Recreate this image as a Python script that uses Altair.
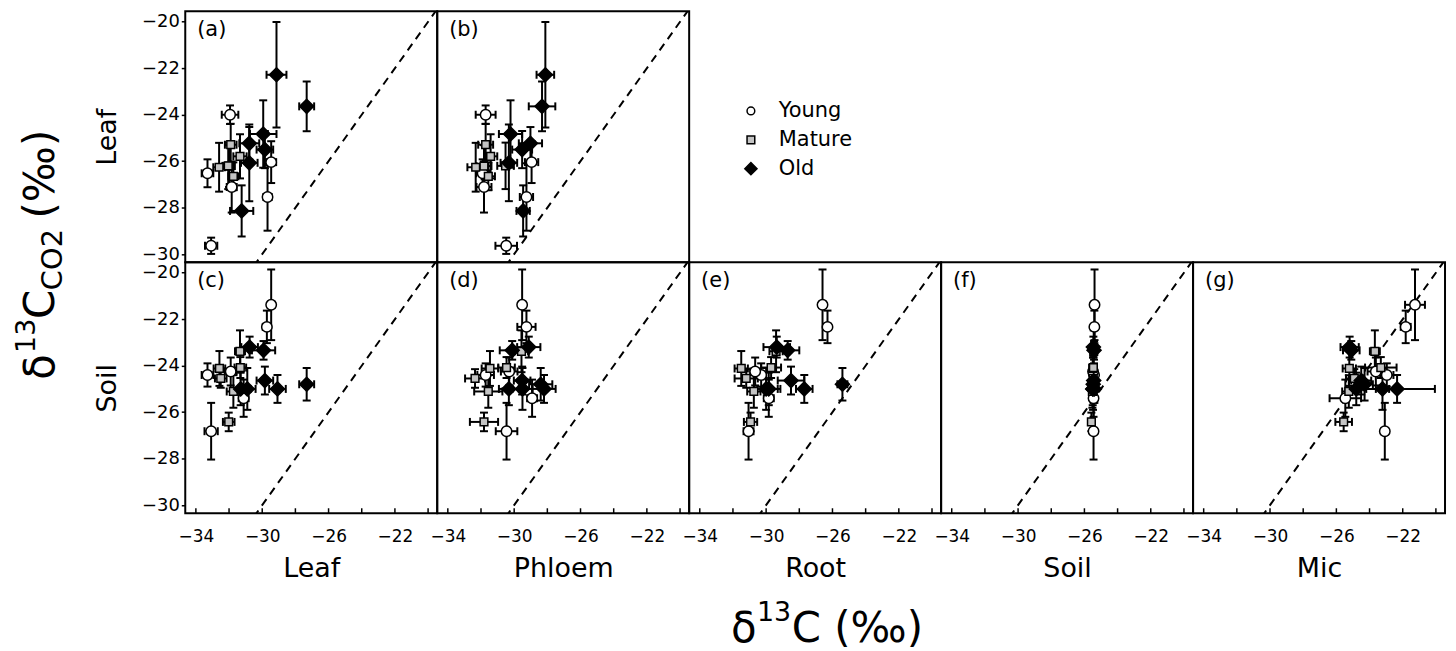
import altair as alt
import pandas as pd

GROUPS = ["Young", "Mature", "Old"]
SHAPES = ["circle", "square", "diamond"]
FILLS = ["white", "#c4c4c4", "black"]
SIZES = [110, 60, 200]
LEGEND_SIZES = [60, 60, 150]
legend_rows = [0, 1, 2]

# ---------- top row: leaf-respired CO2 ----------
leaf_group = ["Young", "Young", "Young", "Young", "Young", "Young",
              "Mature", "Mature", "Mature", "Mature", "Mature", "Mature",
              "Old", "Old", "Old", "Old", "Old", "Old", "Old"]
leaf_co2 = [-26.52, -29.64, -24.00, -27.11, -27.54, -26.04,
            -26.26, -26.21, -25.29, -26.65, -25.79, -26.20,
            -28.14, -26.07, -25.23, -24.83, -25.50, -22.28, -23.64]
leaf_co2_err = [0.60, 0.35, 0.40, 1.10, 1.45, 0.90,
                1.05, 0.90, 0.90, 0.60, 0.95, 1.00,
                1.10, 1.65, 0.70, 1.45, 0.80, 2.27, 1.07]
# (a) x = leaf d13C
a_x = [-33.30, -33.08, -31.94, -31.84, -29.68, -29.46,
       -32.60, -32.00, -31.90, -31.74, -31.34, -32.05,
       -31.24, -30.78, -30.78, -29.94, -29.84, -29.14, -27.32]
a_xerr = [0.35, 0.37, 0.50, 0.30, 0.25, 0.30,
          0.35, 0.35, 0.35, 0.30, 0.40, 0.35,
          0.70, 0.50, 0.60, 0.80, 0.50, 0.60, 0.45]
# (b) x = phloem d13C
b_x = [-31.90, -30.48, -31.72, -31.82, -29.26, -28.95,
       -32.32, -31.82, -31.72, -31.56, -31.42, -30.52,
       -29.46, -30.32, -29.02, -30.22, -29.52, -28.12, -28.32]
b_xerr = [0.40, 0.65, 0.60, 0.45, 0.40, 0.40,
          0.50, 0.45, 0.45, 0.40, 0.40, 0.50,
          0.40, 0.50, 0.70, 0.70, 0.60, 0.53, 0.80]

# ---------- bottom row: soil-respired CO2 ----------
soil_group = ["Young", "Young", "Young", "Young", "Young", "Young",
              "Mature", "Mature", "Mature", "Mature", "Mature", "Mature",
              "Old", "Old", "Old", "Old", "Old", "Old", "Old"]
soil_co2 = [-24.40, -26.82, -25.40, -22.33, -21.38, -24.25,
            -24.12, -24.55, -25.11, -24.08, -23.38, -26.42,
            -23.20, -23.34, -25.00, -25.00, -24.64, -25.00, -24.80]
soil_co2_err = [0.50, 1.22, 0.80, 0.70, 1.52, 0.60,
                0.75, 0.40, 0.70, 0.45, 0.90, 0.40,
                0.45, 0.40, 0.70, 0.90, 0.60, 0.60, 0.70]
# (c) x = leaf
c_x = [-33.30, -33.08, -31.12, -29.72, -29.46, -31.90,
       -32.58, -32.50, -31.74, -31.32, -31.34, -32.02,
       -30.76, -29.92, -31.30, -30.90, -29.84, -29.08, -27.32]
c_xerr = [0.35, 0.40, 0.30, 0.25, 0.20, 0.35,
          0.35, 0.35, 0.40, 0.35, 0.30, 0.35,
          0.50, 0.70, 0.60, 0.50, 0.50, 0.50, 0.45]
# (d) x = phloem
d_x = [-31.72, -30.46, -28.92, -29.26, -29.52, -30.30,
       -31.46, -32.36, -31.56, -30.46, -29.56, -31.82,
       -29.12, -30.12, -30.32, -29.50, -29.52, -28.20, -28.40]
d_xerr = [0.50, 0.65, 0.30, 0.55, 0.20, 0.50,
          0.50, 0.60, 0.85, 0.50, 0.40, 0.85,
          0.70, 0.75, 0.60, 0.60, 0.50, 0.70, 0.70]
# (e) x = root
e_x = [-30.30, -31.06, -29.84, -26.30, -26.60, -30.66,
       -31.50, -31.20, -30.74, -29.70, -29.40, -30.94,
       -29.36, -28.70, -29.84, -30.00, -28.50, -27.70, -25.40]
e_xerr = [0.30, 0.30, 0.30, 0.20, 0.20, 0.30,
          0.40, 0.70, 0.40, 0.60, 0.40, 0.40,
          0.80, 0.70, 0.70, 0.70, 0.80, 0.50, 0.30]
# (f) x = soil
f_x = [-25.42, -25.45, -25.45, -25.40, -25.39, -25.48,
       -25.50, -25.47, -25.52, -25.46, -25.44, -25.58,
       -25.46, -25.42, -25.50, -25.48, -25.44, -25.40, -25.47]
f_xerr = [0.12, 0.12, 0.12, 0.12, 0.12, 0.12,
          0.12, 0.12, 0.12, 0.12, 0.12, 0.12,
          0.15, 0.15, 0.15, 0.15, 0.15, 0.15, 0.15]
# (g) x = microbial
g_x = [-22.96, -23.08, -25.46, -21.82, -21.26, -23.62,
       -25.22, -24.92, -25.25, -23.32, -23.68, -25.56,
       -25.20, -25.10, -24.80, -23.22, -24.50, -22.34, -24.30]
g_xerr = [0.40, 0.20, 0.95, 0.30, 0.60, 0.50,
          0.40, 0.50, 0.40, 0.95, 0.30, 0.50,
          0.55, 0.50, 0.60, 0.40, 0.60, 2.28, 0.50]

x_label_values = [-34, -30, -26, -22]
x_tick_values = [-34, -32, -30, -28, -26, -24, -22, -20]
y_label_values = [-30, -28, -26, -24, -22, -20]
one_to_one = [-31.0, -19.0]

XDOM = [-34.64, -19.45]
YDOM = [-30.35, -19.55]
W, H = 253, 252
FONT = "DejaVu Sans"

shape_scale = alt.Scale(domain=GROUPS, range=SHAPES)
fill_scale = alt.Scale(domain=GROUPS, range=FILLS)


def make_df(groups, xs, xe, ys, ye):
    df = pd.DataFrame({"group": groups, "x": xs, "xerr": xe, "y": ys, "yerr": ye})
    df["xlo"] = df["x"] - df["xerr"]
    df["xhi"] = df["x"] + df["xerr"]
    df["ylo"] = df["y"] - df["yerr"]
    df["yhi"] = df["y"] + df["yerr"]
    return df


def panel(df, label, xtitle=None, ytitle=None, extra=None):
    xs = alt.Scale(domain=XDOM, nice=False, zero=False)
    ys = alt.Scale(domain=YDOM, nice=False, zero=False)
    if xtitle:
        xaxis = alt.Axis(values=x_label_values, title=xtitle, ticks=False, domain=False,
                         grid=False, labelFontSize=17, labelPadding=15, titleFontSize=27,
                         titleFontWeight="normal", titlePadding=12, labelFlush=False)
    else:
        xaxis = None
    if ytitle:
        yaxis = alt.Axis(values=y_label_values, title=ytitle, ticks=True, tickSize=4,
                         tickWidth=1.5, tickColor="black", domain=False,
                         grid=False, labelFontSize=18, labelPadding=2, titleFontSize=27,
                         titleFontWeight="normal", titlePadding=20, labelFlush=False)
    else:
        yaxis = None

    def X(f):
        return alt.X(f, type="quantitative", scale=xs, axis=xaxis)

    def Y(f):
        return alt.Y(f, type="quantitative", scale=ys, axis=yaxis)

    base = alt.Chart(df)
    diag = alt.Chart(pd.DataFrame({"d": one_to_one})).mark_line(
        color="black", strokeWidth=2, strokeDash=[8, 6], clip=True
    ).encode(x=X("d"), y=Y("d"))
    xbar = base.mark_rule(color="black", strokeWidth=2).encode(x=X("xlo"), x2="xhi", y=Y("y"))
    ybar = base.mark_rule(color="black", strokeWidth=2).encode(x=X("x"), y=Y("ylo"), y2="yhi")
    ycap = base.transform_fold(["ylo", "yhi"], as_=["k", "yc"]).mark_tick(
        orient="horizontal", color="black", size=8, thickness=2, opacity=1
    ).encode(x=X("x"), y=Y("yc:Q"))
    xcap = base.transform_fold(["xlo", "xhi"], as_=["k", "xc"]).mark_tick(
        orient="vertical", color="black", size=8, thickness=2, opacity=1
    ).encode(x=X("xc:Q"), y=Y("y"))
    pts = base.mark_point(filled=True, opacity=1, stroke="black", strokeWidth=1.5).encode(
        x=X("x"), y=Y("y"),
        shape=alt.Shape("group:N", scale=shape_scale, legend=None),
        fill=alt.Fill("group:N", scale=fill_scale, legend=None),
        size=alt.Size("group:N", scale=alt.Scale(type="ordinal", domain=GROUPS, range=SIZES),
                      legend=None),
    )
    lab = alt.Chart(pd.DataFrame({"lab": [label]})).mark_text(
        align="left", baseline="top", fontSize=21, font=FONT, color="black"
    ).encode(x=alt.value(12), y=alt.value(8), text="lab:N")
    layers = [diag, xbar, ybar, ycap, xcap, pts, lab]
    if xtitle:
        ticks = alt.Chart(pd.DataFrame({"t": x_tick_values})).mark_rule(
            color="black", strokeWidth=1.5
        ).encode(x=X("t"), y=alt.value(H - 5), y2=alt.value(H))
        layers.append(ticks)
    if extra:
        layers.extend(extra)
    return alt.layer(*layers).properties(width=W, height=H)


def txt(s, x, y, size, angle=0):
    return alt.Chart(pd.DataFrame({"s": [s]})).mark_text(
        align="left", baseline="alphabetic", fontSize=size, font=FONT, color="black",
        angle=angle
    ).encode(x=alt.value(x), y=alt.value(y), text="s:N")


# big y title (rotated), relative to panel (c)
ytitle_parts = [
    txt("δ", -132, 118, 42, 270),
    txt("13", -151, 91, 27, 270),
    txt("C", -132, 57, 42, 270),
    txt("CO2", -124, 28, 29, 270),
    txt("(‰)", -132, -44, 42, 270),
]
# big x title, relative to panel (e)
xtitle_parts = [
    txt("δ", 42, 381, 42),
    txt("13", 68, 360, 27),
    txt("C (‰)", 103, 381, 42),
]

leaf_df_a = make_df(leaf_group, a_x, a_xerr, leaf_co2, leaf_co2_err)
leaf_df_b = make_df(leaf_group, b_x, b_xerr, leaf_co2, leaf_co2_err)
soil_df_c = make_df(soil_group, c_x, c_xerr, soil_co2, soil_co2_err)
soil_df_d = make_df(soil_group, d_x, d_xerr, soil_co2, soil_co2_err)
soil_df_e = make_df(soil_group, e_x, e_xerr, soil_co2, soil_co2_err)
soil_df_f = make_df(soil_group, f_x, f_xerr, soil_co2, soil_co2_err)
soil_df_g = make_df(soil_group, g_x, g_xerr, soil_co2, soil_co2_err)

pa = panel(leaf_df_a, "(a)", ytitle="Leaf")
pb = panel(leaf_df_b, "(b)")
pc = panel(soil_df_c, "(c)", xtitle="Leaf", ytitle="Soil", extra=ytitle_parts)
pd_ = panel(soil_df_d, "(d)", xtitle="Phloem")
pe = panel(soil_df_e, "(e)", xtitle="Root", extra=xtitle_parts)
pf = panel(soil_df_f, "(f)", xtitle="Soil")
pg = panel(soil_df_g, "(g)", xtitle="Mic")


def blank():
    return alt.Chart(pd.DataFrame({"v": [0]})).mark_point(opacity=0).encode(
        x=alt.X("v:Q", axis=None), y=alt.Y("v:Q", axis=None)
    ).properties(width=W, height=H, view=alt.ViewBackground(stroke="transparent"))


# legend cell (top row, third column)
leg_df = pd.DataFrame({"group": GROUPS, "row": legend_rows})
leg_y = alt.Y("row:Q", scale=alt.Scale(domain=[0, 2], range=[100, 158]), axis=None)
leg_sym = alt.Chart(leg_df).mark_point(filled=True, opacity=1, stroke="black",
                                       strokeWidth=1.5).encode(
    x=alt.value(62), y=leg_y,
    shape=alt.Shape("group:N", scale=shape_scale, legend=None),
    fill=alt.Fill("group:N", scale=fill_scale, legend=None),
    size=alt.Size("group:N", scale=alt.Scale(type="ordinal", domain=GROUPS, range=LEGEND_SIZES),
                  legend=None),
)
leg_txt = alt.Chart(leg_df).mark_text(align="left", baseline="middle", fontSize=21,
                                      font=FONT, color="black").encode(
    x=alt.value(90), y=leg_y, text="group:N"
)
legend_cell = alt.layer(leg_sym, leg_txt).properties(
    width=W, height=H, view=alt.ViewBackground(stroke="transparent")
)

chart = alt.concat(
    pa, pb, legend_cell, blank(), blank(), pc, pd_, pe, pf, pg,
    columns=5, spacing=0, bounds="flush"
).resolve_scale(shape="shared", fill="shared", size="independent").configure_view(
    stroke="black", strokeWidth=2
).configure_axis(
    labelFont=FONT, titleFont=FONT, labelColor="black", titleColor="black"
).properties(
    padding={"left": 4, "top": 1, "right": 2, "bottom": 0}
)

chart.save("out.html", embed_options={"renderer": "svg", "actions": False})
